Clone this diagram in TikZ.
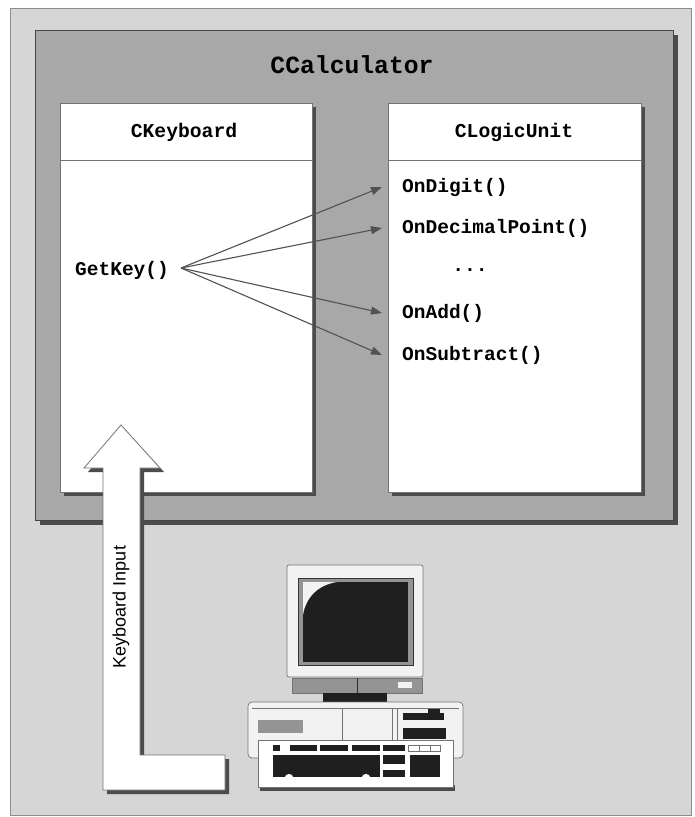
\documentclass[tikz,border=0pt]{standalone}
\usepackage{fontspec}
\newfontfamily\codefont{Liberation Mono}
\newfontfamily\labelfont{Liberation Sans}
\usetikzlibrary{arrows.meta}

\definecolor{paper}{gray}{0.84}
\definecolor{paperedge}{gray}{0.55}
\definecolor{calcfill}{gray}{0.66}
\definecolor{shadowcol}{gray}{0.30}
\definecolor{boxedge}{gray}{0.45}
\definecolor{linkcol}{gray}{0.32}
\definecolor{darkpart}{gray}{0.12}
\definecolor{midpart}{gray}{0.58}
\definecolor{lightpart}{gray}{0.95}

\begin{document}
\begin{tikzpicture}[x=1pt,y=-1pt,
  classbox/.style={draw=boxedge,fill=white,line width=0.8pt},
  dropshadow/.style={fill=shadowcol,draw=none},
  titletext/.style={font=\codefont\bfseries\fontsize{24.7}{27}\selectfont,inner sep=0pt},
  headtext/.style={font=\codefont\bfseries\fontsize{19.7}{22}\selectfont,inner sep=0pt},
  methodtext/.style={font=\codefont\bfseries\fontsize{19.5}{22}\selectfont,inner sep=0pt,anchor=west},
  link/.style={draw=linkcol,line width=1.1pt,-{Triangle[length=11pt,width=8pt]}},
  hwpart/.style={draw=boxedge,line width=0.7pt},
]
\useasboundingbox (0,0) rectangle (694,817);

% page background
\fill[white] (0,0) rectangle (694,817);
\draw[fill=paper,draw=paperedge,line width=0.8pt] (10,8) rectangle (691,815);

% CCalculator container with drop shadow
\fill[dropshadow] (40,35) rectangle (678,525);
\draw[fill=calcfill,draw=gray!55!black,line width=0.6pt] (35,30) rectangle (673,520);
\node[titletext] (calc) at (352,65) {CCalculator};

% CKeyboard class box
\fill[dropshadow] (64,107) rectangle (316,496);
\draw[classbox] (60,103) rectangle (312,492);
\draw[boxedge,line width=1pt] (60,160) -- (312,160);
\node[headtext] (kbd) at (184,132) {CKeyboard};

% CLogicUnit class box
\fill[dropshadow] (392,107) rectangle (645,496);
\draw[classbox] (388,103) rectangle (641,492);
\draw[boxedge,line width=1pt] (388,160) -- (641,160);
\node[headtext] (logic) at (514,132) {CLogicUnit};

% member functions
\node[methodtext] (getkey) at (75,270) {GetKey()};
\node[methodtext] (digit) at (402,187) {OnDigit()};
\node[methodtext] (decimal) at (402,228) {OnDecimalPoint()};
\node[headtext] (more) at (470,270) {...};
\node[methodtext] (add) at (402,313) {OnAdd()};
\node[methodtext] (sub) at (402,355) {OnSubtract()};

% message fan from GetKey()
\coordinate (fan) at (181,268);
\draw[link] (fan) -- ([xshift=-20pt]digit.west);
\draw[link] (fan) -- ([xshift=-20pt]decimal.west);
\draw[link] (fan) -- ([xshift=-20pt]add.west);
\draw[link] (fan) -- ([xshift=-20pt]sub.west);

% hollow L-shaped input arrow with shadow
\fill[dropshadow] (124,429) -- (164,472) -- (144,472) -- (144,759)
  -- (229,759) -- (229,794) -- (107,794) -- (107,472) -- (88,472) -- cycle;
\draw[fill=white,draw=boxedge,line width=0.8pt,line join=miter]
  (121,425) -- (160,468) -- (140,468) -- (140,755)
  -- (225,755) -- (225,790) -- (103,790) -- (103,468) -- (84,468) -- cycle;
\node[font=\labelfont\fontsize{18}{20}\selectfont,rotate=90,inner sep=0pt]
  (input) at (121,607) {Keyboard Input};

% computer: monitor
\draw[hwpart,fill=lightpart,rounded corners=2pt] (287,565) rectangle (423,677);
\draw[fill=midpart,draw=gray!40!black,line width=0.6pt] (298,578) rectangle (413,665);
\fill[darkpart] (303,582) rectangle (408,662);
\fill[lightpart] (303,582) -- (337,582)
  .. controls (318,585) and (306,597) .. (303,615) -- cycle;
% monitor tilt base and neck
\draw[hwpart,fill=midpart] (292,678) rectangle (422,693);
\draw[gray!35!black,line width=0.6pt] (357,678) -- (357,693);
\fill[lightpart] (398,682) rectangle (412,688);
\fill[darkpart] (323,693) rectangle (387,702);

% system unit
\draw[hwpart,fill=lightpart,rounded corners=4pt] (248,702) rectangle (463,758);
\draw[boxedge,line width=0.6pt] (252,708) -- (459,708);
\draw[boxedge,line width=0.5pt] (342,708) -- (342,740);
\draw[boxedge,line width=0.5pt] (392,708) -- (392,740);
\draw[boxedge,line width=0.5pt] (397,708) -- (397,740);
\fill[midpart] (258,720) rectangle (303,733);
\fill[darkpart] (403,713) rectangle (444,720);
\fill[darkpart] (428,709) rectangle (440,714);
\fill[darkpart] (403,728) rectangle (446,739);

% keyboard
\fill[shadowcol] (260,785) rectangle (455,791);
\draw[hwpart,fill=white] (258,740) rectangle (453,787);
\foreach \a/\b in {273/280,290/317,320/348,352/380,383/405}
  \fill[darkpart] (\a,745) rectangle (\b,751);
\draw[boxedge,line width=0.5pt] (408,745) rectangle (440,751);
\draw[boxedge,line width=0.5pt] (419,745) -- (419,751) (430,745) -- (430,751);
\fill[darkpart] (273,755) rectangle (380,777);
\fill[white] (289,777) ellipse (4 and 3);
\fill[white] (366,777) ellipse (4 and 3);
\fill[darkpart] (383,755) rectangle (405,764);
\fill[darkpart] (383,770) rectangle (405,777);
\fill[darkpart] (410,755) rectangle (440,777);
\end{tikzpicture}
\end{document}
